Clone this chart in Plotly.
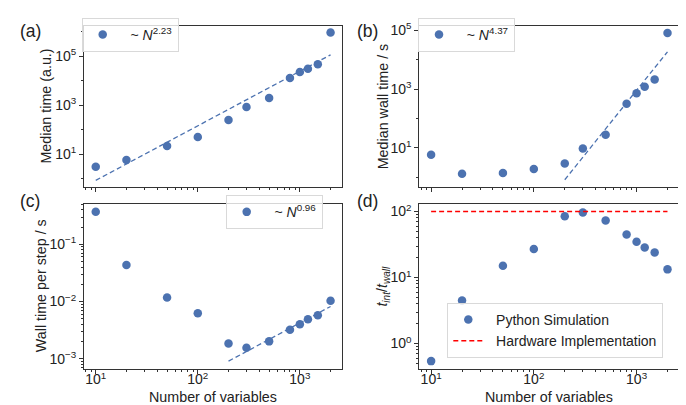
import plotly.graph_objects as go

# ---------------- data ----------------
N = [10, 20, 50, 100, 200, 300, 500, 800, 1000, 1200, 1500, 2000]
median_time = [3.1, 5.8, 21.7, 51, 251, 863, 1977, 13200, 22900, 31300, 47900, 946000]
median_wall = [5.9, 1.32, 1.42, 1.92, 2.97, 9.5, 28, 320, 721, 1200, 2138, 80000]
wall_per_step = [0.372, 0.0434, 0.0118, 0.00622, 0.00184, 0.00155, 0.00201,
                 0.00321, 0.00402, 0.00491, 0.00575, 0.0103]
speedup = [0.54, 4.5, 15.1, 27.1, 85, 97, 73, 45, 35, 28.6, 23.9, 13.3]

hardware_N = [10, 2000]
hardware_speedup = [100, 100]

fit_a_N = [10, 2000]
fit_a = [0.86, 116000]
fit_b_N = [200, 2000]
fit_b = [0.83, 18500]
fit_c_N = [200, 2000]
fit_c = [0.000906, 0.00819]

NB = "\u00a0\u00a0"
fit_labels = [NB + "~ <i>N</i><sup>2.23</sup>", NB + "~ <i>N</i><sup>4.37</sup>",
              NB + "~ <i>N</i><sup>0.96</sup>"]
sim_label = NB + "Python Simulation"
hw_label = NB + "Hardware Implementation"

BLUE = "#4C72B0"
RED = "#FF0000"
AX = "#333333"
FONT = "Liberation Sans"
W, H = 686, 405

fig = go.Figure()

def scatter(x, y, xa, ya, name, legend, show=True):
    fig.add_trace(go.Scatter(x=x, y=y, mode="markers", xaxis=xa, yaxis=ya, name=name,
                             legend=legend, showlegend=show,
                             marker=dict(color=BLUE, size=8.5, line=dict(width=0))))

def dashed(x, y, xa, ya, color, name=None, legend=None, show=False, width=1.3, dash="5px,3px"):
    fig.add_trace(go.Scatter(x=x, y=y, mode="lines", xaxis=xa, yaxis=ya, name=name,
                             legend=legend, showlegend=show,
                             line=dict(color=color, width=width, dash=dash)))

scatter(N, median_time, "x", "y", fit_labels[0], "legend")
dashed(fit_a_N, fit_a, "x", "y", BLUE)
scatter(N, median_wall, "x2", "y2", fit_labels[1], "legend2")
dashed(fit_b_N, fit_b, "x2", "y2", BLUE)
scatter(N, wall_per_step, "x3", "y3", fit_labels[2], "legend3")
dashed(fit_c_N, fit_c, "x3", "y3", BLUE)
scatter(N, speedup, "x4", "y4", sim_label, "legend4")
dashed(hardware_N, hardware_speedup, "x4", "y4", RED, hw_label, "legend4",
       show=True, width=1.5, dash="5px,3px")

def sup(e):
    s = str(e).replace("-", "\u2212")
    return "10<sup>%s</sup>" % s

def minor_vals(lo, hi, subs):
    vals = []
    for d in range(lo, hi + 1):
        for s in subs:
            vals.append(s * 10.0 ** d)
    return vals

xr = [0.885, 3.416]
xdom_l = [76 / W, 334.3 / W]
xdom_r = [411.3 / W, 671.3 / W]
ydom_t = [1 - 175.7 / H, 1 - 12 / H]
ydom_b = [1 - 360 / H, 1 - 193 / H]

base = dict(type="log", showline=True, mirror=True, linecolor=AX, linewidth=1,
            ticks="outside", ticklen=4, tickwidth=1, tickcolor=AX, showgrid=False,
            zeroline=False, tickfont=dict(size=14, color="#222", family=FONT))

xminor = dict(tickvals=minor_vals(0, 3, [2, 3, 4, 5, 6, 7, 8, 9]), ticks="outside",
              ticklen=2, tickcolor=AX, showgrid=False)
xtick = dict(tickmode="array", tickvals=[10, 100, 1000], ticktext=[sup(1), sup(2), sup(3)])

def xaxis(dom, anchor, labels):
    d = dict(base, domain=dom, anchor=anchor, range=xr, minor=xminor, **xtick)
    d["showticklabels"] = labels
    d["ticklabelstandoff"] = -6
    return d

fig.update_layout(
    xaxis=xaxis(xdom_l, "y", False),
    xaxis2=xaxis(xdom_r, "y2", False),
    xaxis3=xaxis(xdom_l, "y3", True),
    xaxis4=xaxis(xdom_r, "y4", True),
    yaxis=dict(base, domain=ydom_t, anchor="x", range=[-0.34, 6.25], tickmode="array",
               tickvals=[10, 1e3, 1e5], ticktext=[sup(1), sup(3), sup(5)],
               minor=dict(tickvals=[1, 100, 1e4, 1e6], ticks="outside", ticklen=2,
                          tickcolor=AX, showgrid=False)),
    yaxis2=dict(base, domain=ydom_t, anchor="x2", range=[-0.33, 5.15], tickmode="array",
                tickvals=[10, 1e3, 1e5], ticktext=[sup(1), sup(3), sup(5)],
                minor=dict(tickvals=[1, 100, 1e4], ticks="outside", ticklen=2,
                           tickcolor=AX, showgrid=False)),
    yaxis3=dict(base, domain=ydom_b, anchor="x3", range=[-3.174, -0.298], tickmode="array",
                tickvals=[1e-3, 1e-2, 1e-1], ticktext=[sup(-3), sup(-2), sup(-1)],
                minor=dict(tickvals=minor_vals(-4, -1, [2, 3, 4, 5, 6, 7, 8, 9]),
                           ticks="outside", ticklen=2, tickcolor=AX, showgrid=False)),
    yaxis4=dict(base, domain=ydom_b, anchor="x4", range=[-0.382, 2.113], tickmode="array",
                tickvals=[1, 10, 100], ticktext=[sup(0), sup(1), sup(2)],
                minor=dict(tickvals=minor_vals(-1, 2, [2, 3, 4, 5, 6, 7, 8, 9]),
                           ticks="outside", ticklen=2, tickcolor=AX, showgrid=False)),
)

leg = dict(bgcolor="rgba(255,255,255,0.8)", bordercolor="#d9d9d9", borderwidth=1,
           font=dict(size=14, family=FONT, color="#222"), xanchor="left", yanchor="top",
           itemwidth=30, tracegroupgap=0)
DX = 8
fig.update_layout(
    legend=dict(leg, x=(81.7 - DX) / W, y=1 - (18 - 14) / H),
    legend2=dict(leg, x=(418 - DX) / W, y=1 - (18 - 14) / H),
    legend3=dict(leg, x=(225.7 - DX) / W, y=1 - (198 - 14) / H),
    legend4=dict(leg, x=(447.3 - DX) / W, y=1 - (307.3 - 14) / H),
)

ann = []
def text(x, y, t, size=14.3, angle=0):
    ann.append(dict(x=x / W, y=1 - y / H, xref="paper", yref="paper", text=t, showarrow=False,
                    textangle=angle, xanchor="center", yanchor="middle",
                    font=dict(size=size, family=FONT, color="#222")))

text(22.5, 17, "(a)", 17.5)
text(359, 17, "(b)", 17.5)
text(22.5, 190, "(c)", 17.5)
text(359, 190, "(d)", 17.5)
text(38, 94, "Median time (a.u.)", angle=-90)
text(374.7, 94, "Median wall time / s", angle=-90)
text(33.3, 276, "Wall time per step / s", angle=-90)
text(374.7, 276, "<i>t</i><sub><i>int</i></sub>/<i>t</i><sub><i>wall</i></sub>", angle=-90)
text(205, 389, "Number of variables")
text(541, 389, "Number of variables")

fig.update_layout(annotations=ann, width=W, height=H, margin=dict(l=0, r=0, t=0, b=0),
                  paper_bgcolor="white", plot_bgcolor="white",
                  font=dict(family=FONT, size=14, color="#222"))

fig.write_html("out.html")
